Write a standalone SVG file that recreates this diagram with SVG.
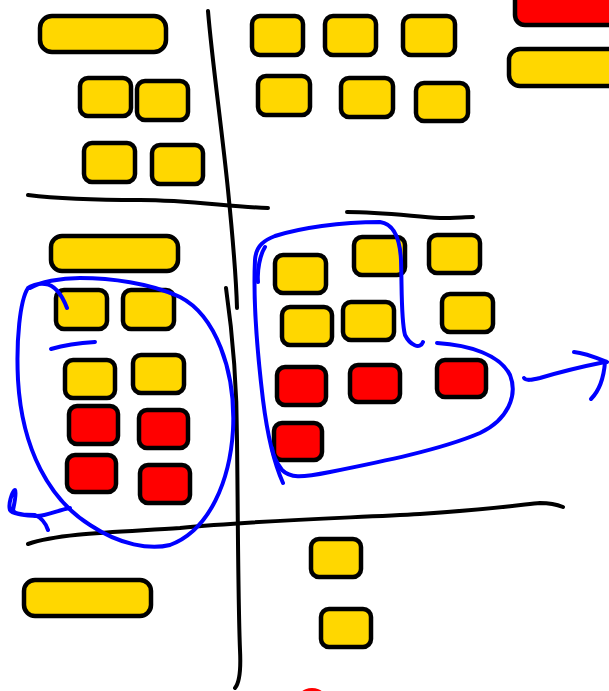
<svg xmlns="http://www.w3.org/2000/svg" width="609" height="691" viewBox="0 0 609 691">
<style>
.y{fill:#FFD700;stroke:#000;stroke-width:4.5}
.r{fill:#FF0000;stroke:#000;stroke-width:4.5}
.k{fill:none;stroke:#000;stroke-width:4;stroke-linecap:round;stroke-linejoin:round}
.b{fill:none;stroke:#0000FF;stroke-width:4;stroke-linecap:round;stroke-linejoin:round}
</style>
<rect width="609" height="691" fill="#fff"/>
<g id="nodes">
<g id="n1"><rect class="y" x="40" y="16" width="126" height="36" rx="12"/></g>
<g id="n2"><rect class="y" x="80" y="78" width="51" height="38" rx="8"/></g>
<g id="n3"><rect class="y" x="137" y="81" width="51" height="39" rx="8"/></g>
<g id="n4"><rect class="y" x="84" y="143" width="51" height="39" rx="8"/></g>
<g id="n5"><rect class="y" x="152" y="145" width="51" height="39" rx="8"/></g>
<g id="n6"><rect class="y" x="252" y="16" width="51" height="39" rx="8"/></g>
<g id="n7"><rect class="y" x="325" y="16" width="51" height="39" rx="8"/></g>
<g id="n8"><rect class="y" x="403" y="16" width="52" height="39" rx="8"/></g>
<g id="n9"><rect class="y" x="258" y="76" width="52" height="39" rx="8"/></g>
<g id="n10"><rect class="y" x="341" y="78" width="52" height="39" rx="8"/></g>
<g id="n11"><rect class="y" x="416" y="83" width="52" height="38" rx="8"/></g>
<g id="n12"><rect class="r" x="515" y="-20" width="110" height="45" rx="10"/></g>
<g id="n13"><rect class="y" x="509" y="49" width="115" height="37" rx="11"/></g>
<g id="n14"><rect class="y" x="51" y="236" width="127" height="35" rx="11"/></g>
<g id="n15"><rect class="y" x="56" y="290" width="51" height="39" rx="8"/></g>
<g id="n16"><rect class="y" x="123" y="290" width="51" height="39" rx="8"/></g>
<g id="n17"><rect class="y" x="65" y="360" width="50" height="38" rx="8"/></g>
<g id="n18"><rect class="y" x="133" y="355" width="51" height="38" rx="8"/></g>
<g id="n19"><rect class="r" x="69" y="406" width="49" height="38" rx="8"/></g>
<g id="n20"><rect class="r" x="139" y="410" width="49" height="38" rx="8"/></g>
<g id="n21"><rect class="r" x="67" y="455" width="49" height="37" rx="8"/></g>
<g id="n22"><rect class="r" x="140" y="465" width="50" height="38" rx="8"/></g>
<g id="n23"><rect class="y" x="275" y="255" width="51" height="38" rx="8"/></g>
<g id="n24"><rect class="y" x="354" y="237" width="51" height="38" rx="8"/></g>
<g id="n25"><rect class="y" x="429" y="235" width="51" height="38" rx="8"/></g>
<g id="n26"><rect class="y" x="282" y="307" width="50" height="38" rx="8"/></g>
<g id="n27"><rect class="y" x="343" y="302" width="51" height="38" rx="8"/></g>
<g id="n28"><rect class="y" x="442" y="294" width="51" height="38" rx="8"/></g>
<g id="n29"><rect class="r" x="277" y="367" width="49" height="38" rx="8"/></g>
<g id="n30"><rect class="r" x="350" y="365" width="50" height="37" rx="8"/></g>
<g id="n31"><rect class="r" x="437" y="360" width="49" height="37" rx="8"/></g>
<g id="n32"><rect class="r" x="274" y="423" width="48" height="37" rx="8"/></g>
<g id="n33"><rect class="y" x="24" y="580" width="127" height="36" rx="11"/></g>
<g id="n34"><rect class="y" x="311" y="539" width="50" height="38" rx="8"/></g>
<g id="n35"><rect class="y" x="321" y="609" width="50" height="38" rx="8"/></g>
<g id="n36"><ellipse cx="312" cy="705" rx="17" ry="17" fill="#FF0000"/></g>
</g>
<g id="connectors">
<path class="k" d="M28,195 C60,199 100,200 140,200 C190,200 230,207 268,208"/>
<path class="k" d="M208,11 C212,60 222,130 228,190 C232,230 236,270 237,308"/>
<path class="k" d="M226,288 C232,330 237,380 237,440 C238,520 238,600 240,650 C241,670 240,682 235,688"/>
<path class="k" d="M347,212 C380,212 410,216 440,218 C455,218 465,217 473,217"/>
<path class="k" d="M28,544 C60,533 120,532 180,528 C260,520 350,518 420,514 C480,510 520,505 540,503 C550,503 558,505 563,507"/>
<path class="b" d="M67,308 C62,295 55,285 45,284 C38,283 30,286 28,288 C20,300 16,340 18,380 C22,450 50,500 90,525 C120,545 150,550 170,545 C210,530 230,480 233,430 C236,370 215,315 180,297 C150,283 110,278 80,278 C60,278 40,282 30,288"/>
<path class="b" d="M51,349 C65,345 80,343 95,342"/>
<path class="b" d="M70,508 C58,510 45,517 35,516 C25,515 12,514 10,510 C8,504 12,492 15,490 C17,492 14,505 13,510 C14,515 25,515 35,515 C42,518 46,524 48,530"/>
<path class="b" d="M283,483 C275,465 268,440 263,400 C257,350 253,300 255,260 C256,245 265,240 275,236 C300,228 340,222 380,222 C395,224 400,240 401,260 C402,290 401,320 405,335 C410,345 420,350 423,342"/>
<path class="b" d="M265,247 C260,255 257,270 258,282"/>
<path class="b" d="M437,343 C470,345 500,355 510,375 C518,395 508,420 480,433 C440,450 380,462 330,472 C300,478 290,478 282,470 C276,462 273,455 272,448"/>
<path class="b" d="M524,378 C526,381 532,380 540,378 C560,372 585,366 605,362"/>
<path class="b" d="M574,352 C585,353 597,358 607,362" stroke-width="5"/>
<path class="b" d="M605,362 C604,375 600,390 591,399"/>
</g>
</svg>
